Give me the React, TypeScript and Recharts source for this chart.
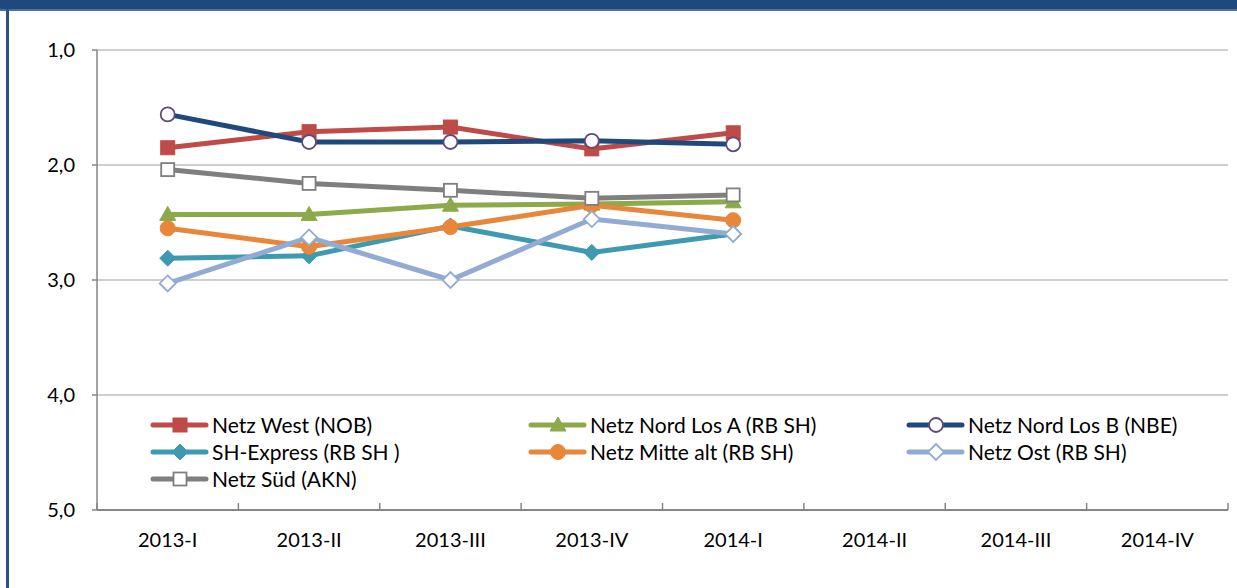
import React from 'react';
import { LineChart, Line, XAxis, YAxis, CartesianGrid } from 'recharts';

const categories = ['2013-I', '2013-II', '2013-III', '2013-IV', '2014-I', '2014-II', '2014-III', '2014-IV'];

const netzWest = [1.85, 1.71, 1.67, 1.86, 1.72];
const netzNordA = [2.43, 2.43, 2.35, 2.34, 2.32];
const netzNordB = [1.56, 1.80, 1.80, 1.79, 1.82];
const shExpress = [2.81, 2.79, 2.53, 2.76, 2.60];
const netzMitte = [2.55, 2.71, 2.54, 2.35, 2.48];
const netzOst = [3.03, 2.63, 3.0, 2.47, 2.60];
const netzSued = [2.04, 2.16, 2.22, 2.29, 2.26];

const yTicks = [1, 2, 3, 4, 5];

type Shape = 'square' | 'triangle' | 'circle' | 'diamond';
interface SeriesDef {
  key: string;
  name: string;
  values: number[];
  color: string;
  shape: Shape;
  fill: string;
  stroke: string;
}

const series: SeriesDef[] = [
  { key: 'west', name: 'Netz West (NOB)', values: netzWest, color: '#BE4B48', shape: 'square', fill: '#BE4B48', stroke: '#BE4B48' },
  { key: 'nordA', name: 'Netz Nord Los A (RB SH)', values: netzNordA, color: '#8CAA4A', shape: 'triangle', fill: '#8CAA4A', stroke: '#8CAA4A' },
  { key: 'nordB', name: 'Netz Nord Los B (NBE)', values: netzNordB, color: '#1F497D', shape: 'circle', fill: '#FFFFFF', stroke: '#604A7B' },
  { key: 'sh', name: 'SH-Express (RB SH )', values: shExpress, color: '#3D9AB0', shape: 'diamond', fill: '#3D9AB0', stroke: '#3D9AB0' },
  { key: 'mitte', name: 'Netz Mitte alt (RB SH)', values: netzMitte, color: '#E8863A', shape: 'circle', fill: '#E8863A', stroke: '#E8863A' },
  { key: 'ost', name: 'Netz Ost (RB SH)', values: netzOst, color: '#92ABD3', shape: 'diamond', fill: '#FFFFFF', stroke: '#92ABD3' },
  { key: 'sued', name: 'Netz Süd (AKN)', values: netzSued, color: '#7F7F7F', shape: 'square', fill: '#FFFFFF', stroke: '#7F7F7F' },
];

const data = categories.map((c, i) => {
  const row: Record<string, any> = { cat: c };
  series.forEach((s) => {
    row[s.key] = i < s.values.length ? s.values[i] : null;
  });
  return row;
});

const FONT = "Lato, 'Open Sans', sans-serif";

function marker(shape: Shape, cx: number, cy: number, fill: string, stroke: string, key?: any) {
  const hollow = fill === '#FFFFFF';
  const sw = hollow ? 1.8 : 1;
  if (shape === 'square') {
    const h = hollow ? 6.5 : 7;
    return <rect key={key} x={cx - h} y={cy - h} width={2 * h} height={2 * h} fill={fill} stroke={stroke} strokeWidth={sw} />;
  }
  if (shape === 'circle') {
    return <circle key={key} cx={cx} cy={cy} r={hollow ? 7 : 7.5} fill={fill} stroke={stroke} strokeWidth={sw} />;
  }
  if (shape === 'triangle') {
    return <polygon key={key} points={`${cx},${cy - 8} ${cx + 8},${cy + 6} ${cx - 8},${cy + 6}`} fill={fill} stroke={stroke} strokeWidth={sw} />;
  }
  const d = 8;
  return <polygon key={key} points={`${cx},${cy - d} ${cx + d},${cy} ${cx},${cy + d} ${cx - d},${cy}`} fill={fill} stroke={stroke} strokeWidth={sw} />;
}

const makeDot = (s: SeriesDef) => (props: any) => {
  const { cx, cy, index } = props;
  if (cx == null || cy == null || props.value == null) return <g key={`e-${s.key}-${index}`} />;
  return marker(s.shape, cx, cy, s.fill, s.stroke, `d-${s.key}-${index}`);
};

const XTick = (props: any) => {
  const { x, payload, index } = props;
  const off = payload.offset || 0;
  return (
    <g>
      <line x1={x - off} x2={x - off} y1={510} y2={503} stroke="#868686" strokeWidth={1.5} />
      {index === categories.length - 1 && (
        <line x1={x + off} x2={x + off} y1={510} y2={503} stroke="#868686" strokeWidth={1.5} />
      )}
      <text x={x} y={547} textAnchor="middle" fontSize={20} fill="#000" fontFamily={FONT}>
        {payload.value}
      </text>
    </g>
  );
};

const LegendBox = () => (
  <div
    style={{
      position: 'absolute',
      left: 150,
      top: 411,
      display: 'grid',
      gridTemplateColumns: '378px 378px 378px',
      fontFamily: FONT,
      fontSize: 21,
      color: '#000',
    }}
  >
    {series.map((s) => (
      <div key={s.key} style={{ display: 'flex', alignItems: 'center', height: 27 }}>
        <svg width={62} height={20} style={{ display: 'block', flex: 'none' }}>
          <line x1={3} x2={56} y1={10} y2={10} stroke={s.color} strokeWidth={5} strokeLinecap="round" />
          {marker(s.shape, 30, 10, s.fill, s.stroke)}
        </svg>
        <span style={{ whiteSpace: 'nowrap', lineHeight: '27px' }}>{s.name}</span>
      </div>
    ))}
  </div>
);

export default function App() {
  return (
    <div style={{ position: 'absolute', left: 0, top: 0, width: 1237, height: 588, background: '#fff', overflow: 'hidden' }}>
      <div style={{ position: 'absolute', left: 0, top: 0, width: 1237, height: 9, background: '#1F497D' }} />
      <div style={{ position: 'absolute', left: 0, top: 9, width: 1237, height: 1.5, background: '#4F6F9F' }} />
      <div style={{ position: 'absolute', left: 6, top: 9, width: 3, height: 579, background: '#2A5286' }} />
      <div style={{ position: 'absolute', left: 0, top: 0 }}>
        <LineChart
          width={1237}
          height={588}
          data={data}
          margin={{ top: 50, right: 9, left: 0, bottom: 0 }}
        >
          <CartesianGrid vertical={false} stroke="#BFBFBF" strokeWidth={1.5} />
          <XAxis
            dataKey="cat"
            scale="band"
            height={78}
            axisLine={{ stroke: '#868686', strokeWidth: 2 }}
            tickLine={false}
            tick={<XTick />}
            interval={0}
          />
          <YAxis
            width={97}
            reversed
            domain={[1, 5]}
            ticks={yTicks}
            interval={0}
            axisLine={{ stroke: '#868686', strokeWidth: 1.5 }}
            tickLine={{ stroke: '#868686', strokeWidth: 1.5 }}
            tickSize={5}
            tickMargin={17}
            tickFormatter={(v: number) => v.toFixed(1).replace('.', ',')}
            tick={{ fontSize: 20, fill: '#000', fontFamily: FONT }}
          />
          {series.map((s) => (
            <Line
              key={s.key}
              dataKey={s.key}
              name={s.name}
              stroke={s.color}
              strokeWidth={5}
              dot={makeDot(s)}
              activeDot={false}
              isAnimationActive={false}
              connectNulls={false}
            />
          ))}
        </LineChart>
      </div>
      <LegendBox />
    </div>
  );
}
